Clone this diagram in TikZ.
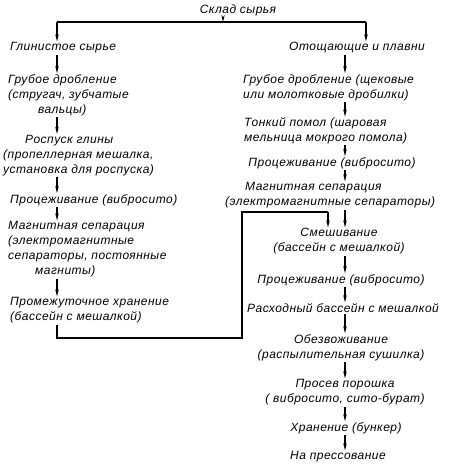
\documentclass[tikz,border=0pt]{standalone}
\usepackage{fontspec}
\setmainfont{Liberation Sans}[LetterSpace=4]
\usetikzlibrary{arrows.meta}
\begin{document}
\begin{tikzpicture}[x=1pt,y=-1pt,
  lbl/.style={font=\fontsize{12}{15}\selectfont\itshape, inner xsep=0pt, inner ysep=1pt},
  flow/.style={line width=1.3pt,-{Stealth[length=7pt,width=3.4pt]}},
  ln/.style={line width=1.3pt}]
\useasboundingbox (0,0) rectangle (450,466);
\coordinate (xL) at (57,0);
\coordinate (xR) at (345,0);
% title
\node[lbl] (T) at (238,10) {Склад сырья};
\coordinate (J) at (223,22);
\coordinate (JL) at (57,22);
\coordinate (JR) at (366,22);
\draw[flow] (T.south -| J) -- (J);
\draw[ln] (JL) -- (JR);
% left column
\node[lbl] (L0) at (63,48) {Глинистое сырье};
\node[lbl,align=left,anchor=west] (L1) at (8,95) {Грубое дробление\\(стругач, зубчатые\\\hspace*{30pt}вальцы)};
\node[lbl,align=left,anchor=west] (L2) at (3,155.5) {\hspace*{22pt}Роспуск глины\\(пропеллерная мешалка,\\установка для роспуска)};
\node[lbl,anchor=west] (L3) at (10,200) {Процеживание (вибросито)};
\node[lbl,align=left,anchor=west] (L4) at (8,249.5) {Магнитная сепарация\\(электромагнитные\\сепараторы, постоянные\\\hspace*{27pt}магниты)};
\node[lbl,align=left,anchor=west] (L5) at (10,310.5) {Промежуточное хранение\\(бассейн с мешалкой)};
% right column
\node[lbl] (R0) at (357,48) {Отощающие и плавни};
\node[lbl,align=left,anchor=west] (R1) at (243,87.5) {Грубое дробление (щековые\\или молотковые дробилки)};
\node[lbl,align=left,anchor=west] (R2) at (244,131) {Тонкий помол (шаровая\\мельница мокрого помола)};
\node[lbl] (R3) at (332,163) {Процеживание (вибросито)};
\node[lbl,align=left,anchor=west] (R4) at (225,195.5) {\hspace*{20pt}Магнитная сепарация\\(электромагнитные сепараторы)};
\node[lbl,align=center] (R5) at (339,241.5) {Смешивание\\(бассейн с мешалкой)};
\node[lbl] (R6) at (341,280) {Процеживание (вибросито)};
\node[lbl] (R7) at (343,308) {Расходный бассейн с мешалкой};
\node[lbl,align=center] (R8) at (341,347.5) {Обезвоживание\\(распылительная сушилка)};
\node[lbl,align=center] (R9) at (345,392.5) {Просев порошка\\( вибросито, сито-бурат)};
\node[lbl] (R10) at (346,428) {Хранение (бункер)};
\node[lbl] (R11) at (338,457) {На прессование};
% top branches
\draw[flow] (JL) -- (L0.north -| JL);
\draw[flow] (JR) -- (R0.north -| JR);
% left arrows
\draw[flow] (L0.south -| xL) -- (L1.north -| xL);
\draw[flow] (L1.south -| xL) -- (L2.north -| xL);
\draw[flow] (L2.south -| xL) -- (L3.north -| xL);
\draw[flow] (L3.south -| xL) -- (L4.north -| xL);
\draw[flow] (L4.south -| xL) -- (L5.north -| xL);
% return path
\coordinate (B1) at (57,338);
\coordinate (B2) at (242,338);
\coordinate (B3) at (242,212);
\coordinate (B4) at (328,212);
\draw[ln] (L5.south -| xL) -- (B1) -- (B2) -- (B3) -- (B4);
\draw[flow] (B4) -- (R5.north -| B4);
% right arrows
\draw[flow] (R0.south -| xR) -- (R1.north -| xR);
\draw[flow] (R1.south -| xR) -- (R2.north -| xR);
\draw[flow] (R2.south -| xR) -- (R3.north -| xR);
\draw[flow] (R3.south -| xR) -- (R4.north -| xR);
\draw[flow] (R4.south -| xR) -- (R5.north -| xR);
\draw[flow] (R5.south -| xR) -- (R6.north -| xR);
\draw[flow] (R6.south -| xR) -- (R7.north -| xR);
\draw[flow] (R7.south -| xR) -- (R8.north -| xR);
\draw[flow] (R8.south -| xR) -- (R9.north -| xR);
\draw[flow] (R9.south -| xR) -- (R10.north -| xR);
\draw[flow] (R10.south -| xR) -- (R11.north -| xR);
\end{tikzpicture}
\end{document}
